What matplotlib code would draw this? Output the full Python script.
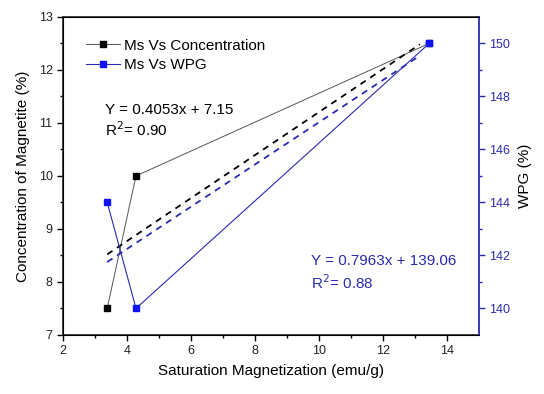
import numpy as np
import matplotlib
matplotlib.use("Agg")
import matplotlib.pyplot as plt

plt.rcParams["font.family"] = ["Liberation Sans", "DejaVu Sans"]

# data
ms = [3.38, 4.28, 13.45]
conc = [7.5, 10.0, 12.5]
wpg = [144, 140, 150]
fit_x = [3.38, 13.16]
conc_fit = (0.4053, 7.15)
wpg_fit = (0.7963, 139.06)

BLUE = "#2b2bb0"

fig = plt.figure(figsize=(5.44, 3.94), dpi=100)
ax = fig.add_axes([0.116, 0.150, 0.764, 0.807])
ax2 = ax.twinx()

ax.plot(ms, conc, "-", color="#555555", lw=0.7, marker="s", ms=4.5,
        mfc="black", mec="black", label="Ms Vs Concentration")
fx = np.array(fit_x)
ax.plot(fx, conc_fit[0] * fx + conc_fit[1], "--", color="black", lw=1.3, dashes=(3.5, 3))

ax2.plot(ms, wpg, "-", color=BLUE, lw=0.8, marker="s", ms=4.5,
         mfc="#1010ff", mec="#1010ff", label="Ms Vs WPG")
ax2.plot(fx, wpg_fit[0] * fx + wpg_fit[1], "--", color=BLUE, lw=1.3, dashes=(3.5, 3))

ax.set_xlim(2, 15)
ax.set_ylim(7, 13)
ax2.set_ylim(139, 151)
ax.set_xticks([2, 4, 6, 8, 10, 12, 14])
ax.set_xticks(np.arange(3, 15, 2), minor=True)
ax.set_yticks(np.arange(7, 14, 1))
ax.set_yticks(np.arange(7.5, 13, 1), minor=True)
ax2.set_yticks(np.arange(140, 151, 2))
ax2.set_yticks(np.arange(141, 151, 2), minor=True)

for a in (ax, ax2):
    a.tick_params(direction="out", length=4, width=1, labelsize=9, labelcolor="#222222")
    a.tick_params(which="minor", direction="out", length=2.5, width=1)
ax2.tick_params(axis="y", which="both", colors=BLUE, labelcolor=BLUE)
ax2.spines["right"].set_color(BLUE)
ax2.spines["right"].set_linewidth(1.3)
for s in ("left", "bottom", "top"):
    ax.spines[s].set_linewidth(1.3)
    ax.spines[s].set_color("#333333")
ax.spines["right"].set_visible(False)

ax.set_xlabel("Saturation Magnetization (emu/g)", fontsize=11, labelpad=5)
ax.set_ylabel("Concentration of Magnetite (%)", fontsize=11, labelpad=6)
ax2.set_ylabel("WPG (%)", fontsize=11, color="black", labelpad=6)

h1, l1 = ax.get_legend_handles_labels()
h2, l2 = ax2.get_legend_handles_labels()
ax.legend(h1 + h2, l1 + l2, loc="upper left", frameon=False, fontsize=11,
          handlelength=2.2, handletextpad=0.3, labelspacing=0.35,
          bbox_to_anchor=(0.022, 0.975))

ax.text(3.3, 11.25, "Y = 0.4053x + 7.15", fontsize=11, va="center")
ax.text(3.3, 10.87, "R$^2$= 0.90", fontsize=11, va="center")
ax.text(9.75, 8.4, "Y = 0.7963x + 139.06", fontsize=11, va="center", color=BLUE)
ax.text(9.75, 7.98, "R$^2$= 0.88", fontsize=11, va="center", color=BLUE)

fig.savefig("out.png", dpi=100)
